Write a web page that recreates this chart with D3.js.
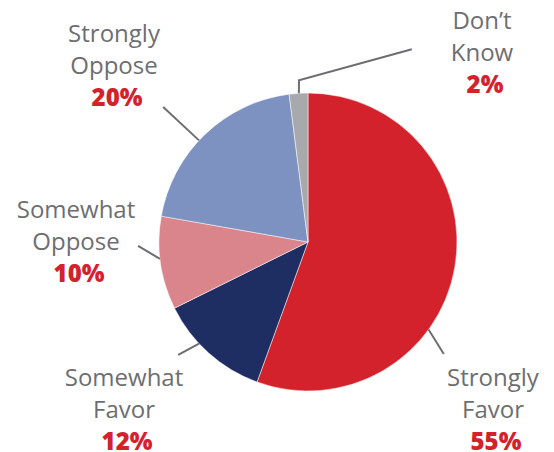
<!DOCTYPE html>
<html>
<head>
<meta charset="utf-8">
<script src="https://cdn.jsdelivr.net/npm/d3@7"></script>
<style>
  body { margin: 0; background: #fff; }
  svg { display: block; }
</style>
</head>
<body>
<svg id="chart" width="554" height="452"></svg>
<script>
var categories = ['Strongly Favor', 'Somewhat Favor', 'Somewhat Oppose', 'Strongly Oppose', 'Don\u2019t Know'];
var values = [55, 12, 10, 20, 2];
var colors = ['#d4222d', '#1f2e62', '#d9858b', '#7e92c2', '#a8a9ad'];

// label placement: leader line as [angleDeg, radius] points, text offset from centre
var layout = [
  { leader: [[126, 149], [129.5, 176]], dx: 185, dy: 144 },
  { leader: [[227, 149], [229, 172]], dx: -184, dy: 144 },
  { leader: [[263.5, 149], [268.7, 170]], dx: -232, dy: -24 },
  { leader: [[313, 149], [313, 198]], dx: -194, dy: -200 },
  { leader: [[356.5, 149], [356.8, 162], [28.3, 219]], dx: 174, dy: -213 }
];

var cx = 308, cy = 242, radius = 149;
var svg = d3.select('#chart');
var g = svg.append('g').attr('transform', 'translate(' + cx + ',' + cy + ')');

var pie = d3.pie().sort(null).value(function(d) { return d; });
var arc = d3.arc().innerRadius(0).outerRadius(radius);
var arcs = pie(values);

g.selectAll('path.slice')
  .data(arcs)
  .enter().append('path')
  .attr('class', 'slice')
  .attr('d', arc)
  .attr('fill', function(d, i) { return colors[i]; })
  .attr('stroke', '#ffffff')
  .attr('stroke-width', 0.5);

var line = d3.line();
var rad = Math.PI / 180;

g.selectAll('path.leader')
  .data(layout)
  .enter().append('path')
  .attr('class', 'leader')
  .attr('d', function(d) {
    return line(d.leader.map(function(p) { return d3.pointRadial(p[0] * rad, p[1]); }));
  })
  .attr('fill', 'none')
  .attr('stroke', '#6d6e71')
  .attr('stroke-width', 2);

var labels = g.selectAll('text.label')
  .data(arcs)
  .enter().append('text')
  .attr('class', 'label')
  .attr('text-anchor', 'middle')
  .style('font-family', '"Open Sans", sans-serif')
  .style('font-size', '24px');

labels.each(function(d, i) {
  var t = d3.select(this);
  var words = categories[i].split(' ');
  var lay = layout[i];
  words.forEach(function(w, k) {
    t.append('tspan')
      .attr('x', lay.dx)
      .attr('y', lay.dy + k * 32)
      .attr('fill', '#6d6e71')
      .style('font-weight', 500)
      .text(w);
  });
  t.append('tspan')
    .attr('x', lay.dx + 3)
    .attr('y', lay.dy + words.length * 32)
    .attr('fill', '#d4222d')
    .style('font-weight', 800)
    .text(values[i] + '%');
});
</script>
</body>
</html>
